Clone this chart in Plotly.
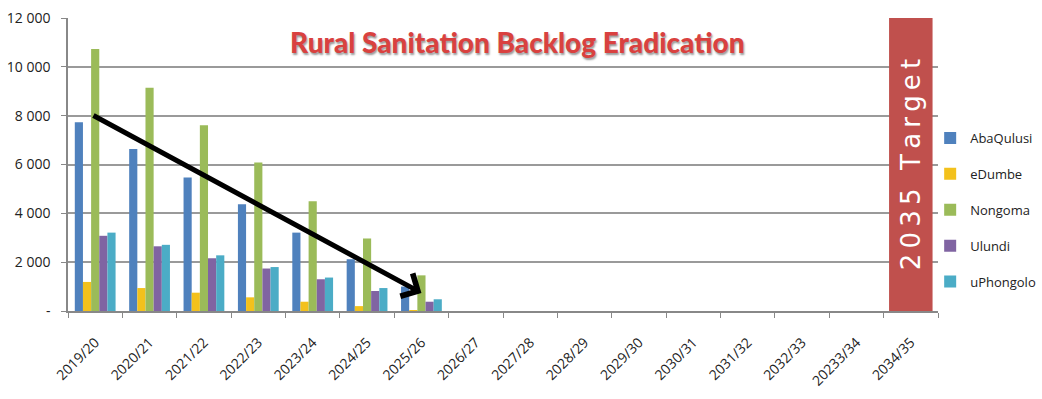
import plotly.graph_objects as go

categories = ["2019/20", "2020/21", "2021/22", "2022/23", "2023/24", "2024/25", "2025/26",
              "2026/27", "2027/28", "2028/29", "2029/30", "2030/31", "2031/32", "2032/33",
              "20233/34", "2034/35"]

abaqulusi = [7730, 6630, 5470, 4370, 3210, 2120, 1000]
edumbe = [1190, 940, 750, 560, 380, 200, 30]
nongoma = [10730, 9140, 7610, 6080, 4500, 2970, 1460]
ulundi = [3080, 2650, 2160, 1740, 1300, 820, 380]
uphongolo = [3210, 2710, 2280, 1800, 1370, 940, 480]

series = [
    ("AbaQulusi", abaqulusi, "#4f81bd"),
    ("eDumbe", edumbe, "#f3c11c"),
    ("Nongoma", nongoma, "#9bbb59"),
    ("Ulundi", ulundi, "#8064a2"),
    ("uPhongolo", uphongolo, "#4bacc6"),
]

y_tickvals = [0, 2000, 4000, 6000, 8000, 10000, 12000]
y_ticktext = ["-", "2 000", "4 000", "6 000", "8 000", "10 000", "12 000"]

title_text = "Rural Sanitation Backlog Eradication"
target_label = "2035 Target"
target_category = "2034/35"
target_value = 12000

arrow_start = (-0.06, 8040)
arrow_end = (6.0, 740)

fig = go.Figure()
for name, vals, color in series:
    fig.add_trace(go.Bar(
        name=name, x=categories[:len(vals)], y=vals,
        marker=dict(color=color, line=dict(width=0)),
        legendgroup=name,
    ))

fig.update_layout(
    barmode="group", bargap=0.25, bargroupgap=0,
    width=1042, height=399,
    margin=dict(l=68, r=104, t=18, b=88, autoexpand=False),
    paper_bgcolor="white", plot_bgcolor="white",
    font=dict(family="Open Sans", color="#222"),
    showlegend=True,
    legend=dict(x=0.991, y=1 - (210 - 18) / 293, xanchor="left", yanchor="middle",
                font=dict(family="Open Sans", size=13, color="#222"),
                tracegroupgap=16, bgcolor="rgba(0,0,0,0)"),
)

fig.update_xaxes(
    type="category", categoryorder="array", categoryarray=categories,
    range=[-0.5, len(categories) - 0.5],
    tickmode="array", tickvals=categories, ticktext=categories,
    tickangle=-45, tickson="boundaries", ticks="outside", ticklen=5,
    tickcolor="#888", showline=True, linecolor="#888", linewidth=1.5,
    tickfont=dict(family="Open Sans", size=14, color="#222"),
    showgrid=False, ticklabelstandoff=16,
)
fig.update_yaxes(
    range=[0, 12000], tickvals=y_tickvals, ticktext=y_ticktext,
    showgrid=True, gridcolor="#9a9a9a", gridwidth=1.5,
    showline=True, linecolor="#888", linewidth=1.5,
    ticks="outside", ticklen=5, tickcolor="#888",
    tickfont=dict(family="Open Sans", size=14, color="#222"),
    ticklabelstandoff=8, zeroline=False,
)

ti = categories.index(target_category)
fig.add_shape(type="rect", xref="x", yref="y",
              x0=ti - 0.4, x1=ti + 0.4, y0=0, y1=target_value,
              fillcolor="#c0504d", line=dict(width=0), layer="above")
fig.add_annotation(x=ti, y=target_value / 2, xref="x", yref="y",
                   text="\u2009".join(target_label), textangle=-90, showarrow=False,
                   font=dict(family="DejaVu Sans", size=26, color="white"))

fig.add_annotation(x=arrow_end[0], y=arrow_end[1], ax=arrow_start[0], ay=arrow_start[1],
                   xref="x", yref="y", axref="x", ayref="y", text="",
                   showarrow=True, arrowhead=4, arrowsize=1.0, arrowwidth=5,
                   arrowcolor="black")

fig.add_annotation(x=(517 - 68) / 870, y=1 - (42 - 18) / 293, xref="paper", yref="paper",
                   xanchor="center", yanchor="middle",
                   text=title_text, showarrow=False,
                   font=dict(family="Lato", weight=900, size=28, color="#d9413f",
                             shadow="1px 2px 2px #999"))

fig.write_html("out.html")
